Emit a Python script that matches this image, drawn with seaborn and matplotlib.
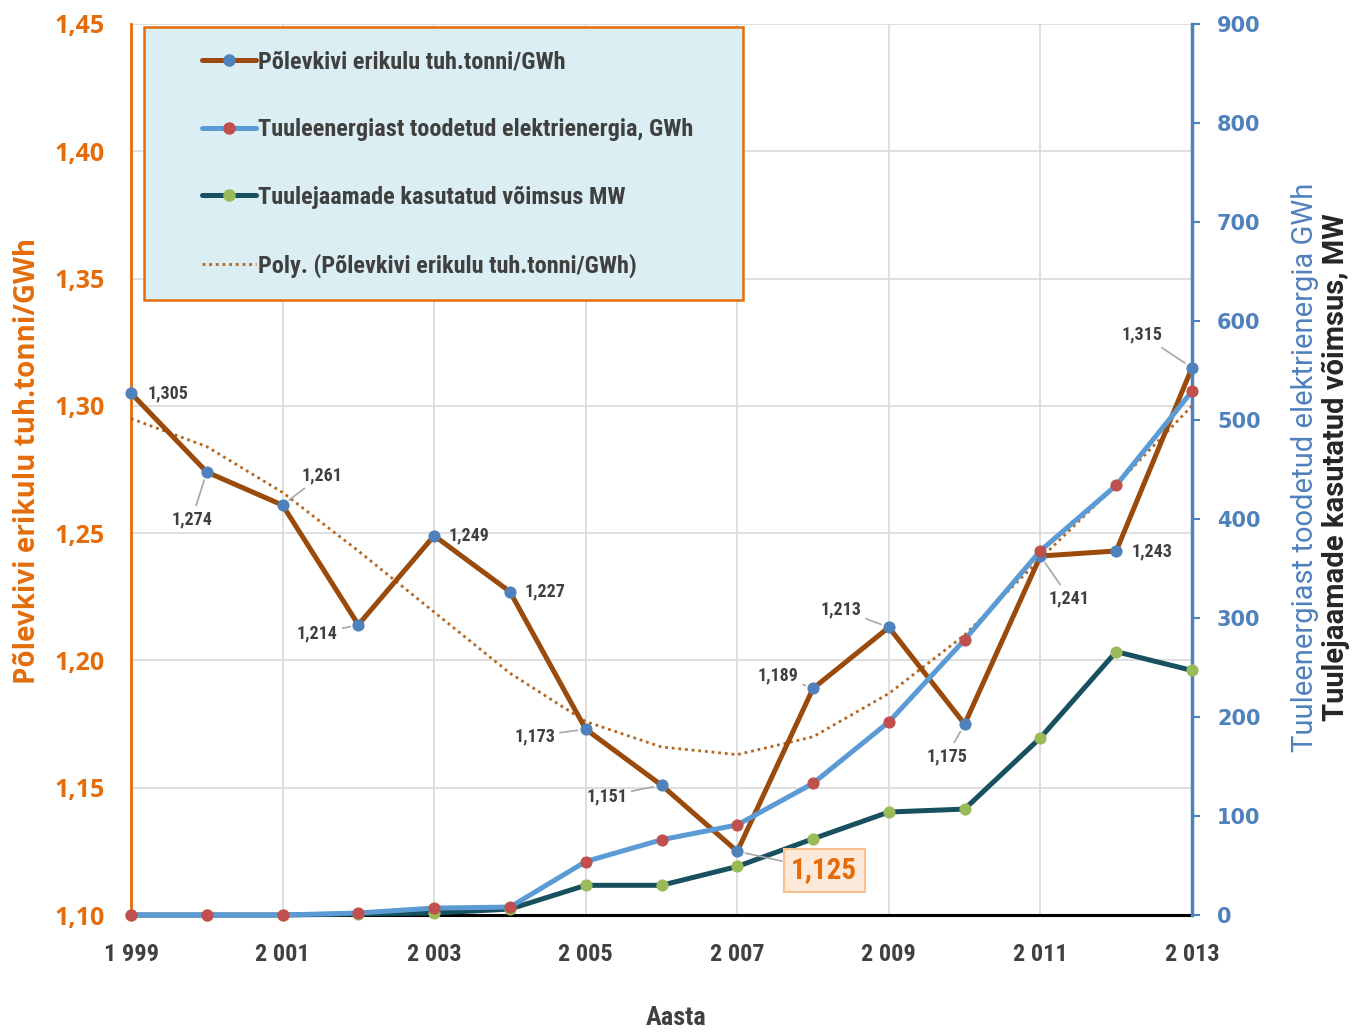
import numpy as np
import pandas as pd
import matplotlib
matplotlib.use("Agg")
import matplotlib.pyplot as plt
from matplotlib.patches import Rectangle
from matplotlib.lines import Line2D
import seaborn as sns

# ---- data -------------------------------------------------------------
years = list(range(1999, 2014))
oil_shale = [1.305, 1.274, 1.261, 1.214, 1.249, 1.227, 1.173, 1.151,
             1.125, 1.189, 1.213, 1.175, 1.241, 1.243, 1.315]
oil_shale_trend = [1.295, 1.284, 1.266, 1.243, 1.219, 1.195, 1.176, 1.166,
                   1.163, 1.170, 1.187, 1.210, 1.240, 1.269, 1.300]
wind_energy_gwh = [0, 0, 0, 2, 7, 8, 54, 76, 91, 133, 195, 278, 368, 434, 529]
wind_capacity_mw = [0, 0, 0, 1, 2, 6, 30, 30, 49, 77, 104, 107, 179, 266, 247]

series_names = [
    "Põlevkivi erikulu tuh.tonni/GWh",
    "Tuuleenergiast toodetud elektrienergia, GWh",
    "Tuulejaamade kasutatud võimsus MW",
    "Poly. (Põlevkivi erikulu tuh.tonni/GWh)",
]
left_ticks = [1.10, 1.15, 1.20, 1.25, 1.30, 1.35, 1.40, 1.45]
right_ticks = list(range(0, 901, 100))
x_ticks = list(range(1999, 2014, 2))

# ---- styling ----------------------------------------------------------
sns.set_style("white")
NARROW = ["Roboto Condensed", "Roboto", "DejaVu Sans"]
plt.rcParams["font.family"] = NARROW

BROWN = "#9A4A0B"
BLUE_MK = "#4F81BD"
LBLUE = "#5B9BD5"
RED_MK = "#C0504D"
TEAL = "#17505E"
GREEN_MK = "#9BBB59"
ORANGE = "#E46C0A"
TREND = "#B5651D"
RBLUE = "#4F81BD"
GREY_TXT = "#404040"
GRID = "#D9D9D9"
DOTS = (0, (1, 1.4))

W, H = 1356, 1032
fig = plt.figure(figsize=(W / 100, H / 100), dpi=100)
ax = fig.add_axes([131 / W, 1 - 915 / H, 1061 / W, 891 / H])
ax2 = ax.twinx()

# ---- lines ------------------------------------------------------------
sns.lineplot(x=years, y=oil_shale, ax=ax, color=BROWN, linewidth=3.6,
             marker="o", markersize=8, markerfacecolor=BLUE_MK,
             markeredgecolor=BLUE_MK, clip_on=False, zorder=4, legend=False)
sns.lineplot(x=years, y=oil_shale_trend, ax=ax, color=TREND, linewidth=2.0,
             linestyle=DOTS, zorder=3, legend=False)

sns.lineplot(x=years, y=wind_energy_gwh, ax=ax2, color=LBLUE, linewidth=3.6,
             marker="o", markersize=8, markerfacecolor=RED_MK,
             markeredgecolor=RED_MK, clip_on=False, zorder=4, legend=False)
sns.lineplot(x=years, y=wind_capacity_mw, ax=ax2, color=TEAL, linewidth=3.6,
             marker="o", markersize=8, markerfacecolor=GREEN_MK,
             markeredgecolor=GREEN_MK, clip_on=False, zorder=3, legend=False)

# ---- axes -------------------------------------------------------------
ax.set_xlim(1999, 2013)
ax.set_ylim(1.10, 1.45)
ax2.set_ylim(0, 900)

ax.set_xticks(x_ticks)
ax.set_xticklabels([f"{y // 1000} {y % 1000:03d}" for y in x_ticks],
                   fontsize=17.5, fontweight="bold", color=GREY_TXT)
ax.set_yticks(left_ticks)
ax.set_yticklabels([f"{v:.2f}".replace(".", ",") for v in left_ticks],
                   fontsize=18, fontweight="bold", color=ORANGE,
                   family="Open Sans")
ax2.set_yticks(right_ticks)
ax2.set_yticklabels([str(v) for v in right_ticks], fontsize=15,
                    fontweight="bold", color=RBLUE, family="DejaVu Sans")

ax.tick_params(axis="x", length=0, pad=20)
ax.tick_params(axis="y", length=0, pad=19)
ax2.tick_params(axis="y", length=6, width=1.5, color=RBLUE, pad=12,
                direction="out")

ax.grid(True, color=GRID, linewidth=1.2)
ax.set_axisbelow(True)
ax.set_xlabel("")
ax.set_ylabel("")
ax2.set_ylabel("")

for a in (ax, ax2):
    a.spines["top"].set_visible(False)
ax.spines["left"].set_color(ORANGE)
ax.spines["left"].set_linewidth(2)
ax.spines["right"].set_visible(False)
ax.spines["bottom"].set_color("black")
ax.spines["bottom"].set_linewidth(2.2)
ax2.spines["left"].set_visible(False)
ax2.spines["bottom"].set_visible(False)
ax2.spines["right"].set_color(RBLUE)
ax2.spines["right"].set_linewidth(2.5)

# ---- data labels on the oil-shale series ------------------------------
# (dx, dy) in pixels from the point, whether a leader line is drawn
label_offsets = [(37, 0, False), (-15, -47, True), (39, 30, True),
                 (-41, -9, True), (35, 0, False), (35, 0, False),
                 (-51, -7, True), (-55, -11, True), (87, -19, True),
                 (-35, 13, True), (-48, 18, True), (-18, -32, True),
                 (29, -42, True), (36, 0, False), (-50, 33, True)]
for yr, v, (dx, dy, leader) in zip(years, oil_shale, label_offsets):
    txt = f"{v:.3f}".replace(".", ",")
    arrow = dict(arrowstyle="-", color="#A6A6A6", lw=1.2,
                 shrinkA=1, shrinkB=6) if leader else None
    if yr == 2007:
        ax2.annotate(txt, xy=(yr, v), xycoords=ax.transData,
                     xytext=(dx, dy), textcoords="offset pixels",
                     ha="center", va="center", fontsize=21,
                     fontweight="bold", color=ORANGE, arrowprops=arrow,
                     bbox=dict(boxstyle="square,pad=0.25", fc="#FDE9D9",
                               ec="#FAC090", lw=1.5), zorder=6)
    else:
        ax2.annotate(txt, xy=(yr, v), xycoords=ax.transData,
                     xytext=(dx, dy), textcoords="offset pixels",
                     ha="center", va="center", fontsize=13,
                     fontweight="bold", color=GREY_TXT, arrowprops=arrow,
                     zorder=6)

# ---- axis titles ------------------------------------------------------
fig.text(28 / W, 1 - 461 / H, "Põlevkivi erikulu tuh.tonni/GWh",
         rotation=90, ha="center", va="center", fontsize=20,
         fontweight="bold", color=ORANGE, family="Open Sans")
fig.text(1305 / W, 1 - 467 / H, "Tuuleenergiast toodetud elektrienergia GWh",
         rotation=90, ha="center", va="center", fontsize=21,
         color=RBLUE, family="Roboto")
fig.text(1336 / W, 1 - 467 / H, "Tuulejaamade kasutatud võimsus, MW",
         rotation=90, ha="center", va="center", fontsize=21,
         fontweight="bold", color="#262626", family="Roboto")
fig.text(676 / W, 1 - 1018 / H, "Aasta", ha="center", va="center",
         fontsize=19, fontweight="bold", color=GREY_TXT)

# ---- legend -----------------------------------------------------------
fig.add_artist(Rectangle((144 / W, 1 - 300 / H), 599 / W, 273 / H,
                         transform=fig.transFigure, facecolor="#DBEEF4",
                         edgecolor=ORANGE, linewidth=1.8, zorder=3))
handles = [
    Line2D([], [], color=BROWN, lw=3.6, marker="o", ms=8,
           mfc=BLUE_MK, mec=BLUE_MK),
    Line2D([], [], color=LBLUE, lw=3.6, marker="o", ms=8,
           mfc=RED_MK, mec=RED_MK),
    Line2D([], [], color=TEAL, lw=3.6, marker="o", ms=8,
           mfc=GREEN_MK, mec=GREEN_MK),
    Line2D([], [], color=TREND, lw=2.0, linestyle=DOTS),
]
leg = fig.legend(handles, series_names, loc="upper left",
                 bbox_to_anchor=(202 / W, 1 - 51 / H), frameon=False,
                 borderpad=0, borderaxespad=0, handlelength=2.22,
                 handletextpad=0.1, labelspacing=1.83,
                 prop=dict(family=NARROW, size=17.5, weight="bold"))
for t in leg.get_texts():
    t.set_color(GREY_TXT)
leg.set_zorder(5)

fig.savefig("out.png", dpi=100)
